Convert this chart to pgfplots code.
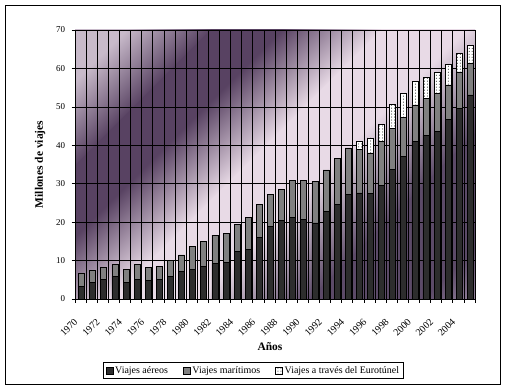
\documentclass[border=0pt]{standalone}
\usepackage{pgfplots}
\usepackage{pgfplotstable}
\pgfplotsset{compat=1.18}
\usepackage{fontspec}
\setmainfont{Liberation Serif}
\usetikzlibrary{patterns}

\definecolor{bgA}{RGB}{200,186,202}
\definecolor{bgD}{RGB}{88,66,98}
\definecolor{bgL}{RGB}{232,218,230}
\definecolor{bgD2}{RGB}{92,74,104}
\definecolor{bgE}{RGB}{150,132,158}
\definecolor{airc}{RGB}{45,45,45}
\definecolor{seac}{RGB}{128,128,128}

\pgfplotstableread{
year air sea tunnel
1970 3.3 3.3 0
1971 4.3 3.1 0
1972 5.2 3.0 0
1973 5.9 3.0 0
1974 4.4 3.2 0
1975 5.0 3.9 0
1976 4.8 3.4 0
1977 5.1 3.3 0
1978 5.8 4.3 0
1979 7.1 4.4 0
1980 7.6 6.0 0
1981 8.5 6.4 0
1982 9.3 7.3 0
1983 9.6 7.4 0
1984 12.4 7.0 0
1985 13.0 8.2 0
1986 16.0 8.6 0
1987 18.9 8.3 0
1988 20.5 8.0 0
1989 21.3 9.5 0
1990 20.8 10.0 0
1991 19.8 10.7 0
1992 22.8 10.8 0
1993 24.7 11.8 0
1994 27.2 12.1 0
1995 27.6 11.3 2.1
1996 27.5 10.5 3.9
1997 29.6 11.5 4.4
1998 33.8 10.5 6.4
1999 37.1 10.1 6.4
2000 41.0 9.5 6.1
2001 42.6 9.5 5.7
2002 43.6 9.8 5.6
2003 46.7 9.0 5.4
2004 49.7 9.4 4.8
2005 53.1 8.2 4.8
}\datatable

% background band: from p1 to p2 (offsets from plot centre along the down-right diagonal)
\newcommand{\band}[4]{\shade[left color=#3, right color=#4] ({275bp+(#1)*1bp-0.4bp},-80bp) rectangle ({275bp+(#2)*1bp+0.4bp},530bp);}

\begin{document}
\begin{tikzpicture}
\path[use as bounding box] (0bp,0bp) rectangle (506bp,389bp);
\fill[white] (0bp,0bp) rectangle (506bp,389bp);
\draw[black, line width=0.8bp] (5bp,5bp) rectangle (500bp,384bp);
\begin{scope}
\clip (75bp,90bp) rectangle (475bp,359bp);
\begin{scope}[transform canvas={rotate around={-45:(275bp,224.5bp)}}]
\band{-320}{-200}{bgA}{bgA}
\band{-200}{-140}{bgA}{bgD}
\band{-140}{-90}{bgD}{bgD}
\band{-90}{-20}{bgD}{bgL}
\band{-20}{40}{bgL}{bgL}
\band{40}{120}{bgL}{bgD2}
\band{120}{200}{bgD2}{bgD2}
\band{200}{236}{bgD2}{bgE}
\band{236}{320}{bgE}{bgE}
\end{scope}
\end{scope}
\begin{axis}[
  at={(75bp,90bp)}, anchor=south west,
  scale only axis, width=400bp, height=269bp,
  xmin=1969.5, xmax=2005.5, ymin=0, ymax=70,
  ybar stacked, bar width=6bp, bar shift=1bp,
  axis x line*=bottom, axis y line*=left,
  axis line style={black, line width=0.7bp},
  tick align=outside,
  major tick length=3.5bp,
  tick style={black, line width=0.6bp},
  ytick={0,10,...,70},
  ymajorgrids,
  xtick={1969.5,1970.5,...,2005.5},
  xticklabels={},
  xmajorgrids,
  grid style={black, line width=0.7bp},
  extra x ticks={1970,1972,...,2004},
  extra x tick labels={1970,1972,1974,1976,1978,1980,1982,1984,1986,1988,1990,1992,1994,1996,1998,2000,2002,2004},
  extra x tick style={grid=none, major tick length=0pt,
    tick label style={xshift=-7bp, yshift=-14bp, rotate=45, anchor=north east, font=\fontsize{10}{11}\selectfont}},
  /pgf/number format/assume math mode=true,
  tick label style={font=\fontsize{9}{10}\selectfont},
  yticklabel style={xshift=-3bp},
  xlabel={Años},
  ylabel={Millones de viajes},
  label style={font=\fontsize{11.5}{13}\selectfont\bfseries},
  xlabel style={at={(axis description cs:0.4875,-0.178)}, anchor=center},
  ylabel style={at={(axis description cs:-0.0875,0.5)}, anchor=center},
  legend columns=3,
  legend style={at={(axis description cs:0.446,-0.266)}, anchor=center,
    draw=black, line width=0.6bp, font=\fontsize{10}{11}\selectfont,
    inner xsep=2bp, inner ysep=2bp,
    /tikz/every even column/.append style={column sep=13bp}},
  legend image code/.code={\draw[#1, line width=0.5bp] (0bp,-3.5bp) rectangle (7bp,3.5bp);},
]
\addplot[fill=airc, draw=black, line width=0.6bp] table[x=year, y=air] {\datatable};
\addplot[fill=seac, draw=black, line width=0.6bp] table[x=year, y=sea] {\datatable};
\addplot[fill=white, draw=black, line width=0.6bp, postaction={pattern=dots, pattern color=black}] table[x=year, y=tunnel] {\datatable};
\legend{Viajes aéreos, Viajes marítimos, Viajes a través del Eurotúnel}
\end{axis}
\end{tikzpicture}
\end{document}
